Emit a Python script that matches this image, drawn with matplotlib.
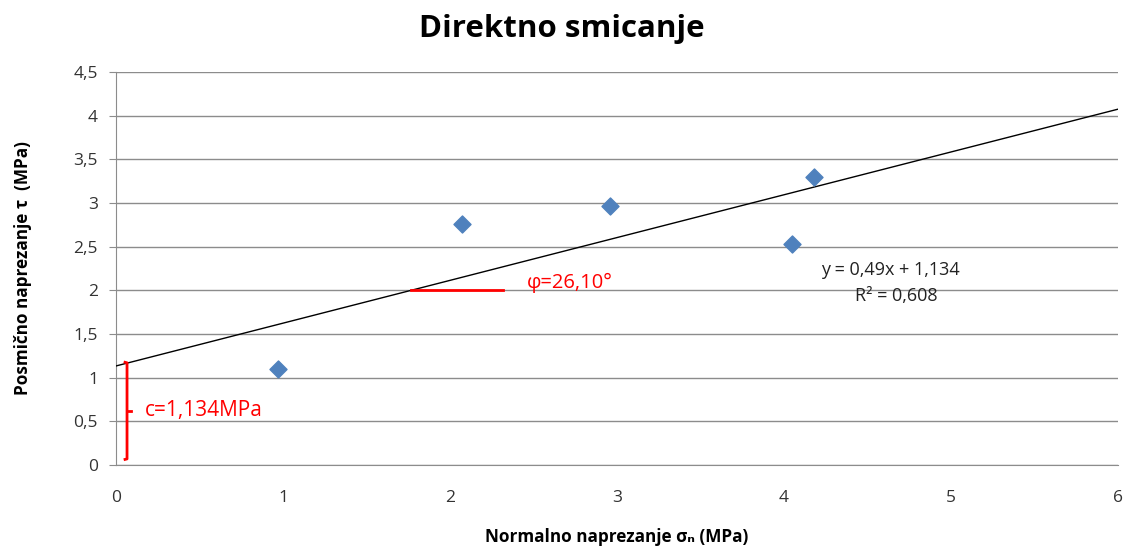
import numpy as np
import matplotlib
matplotlib.use("Agg")
import matplotlib.pyplot as plt

plt.rcParams['font.family'] = ['Open Sans', 'DejaVu Sans']

# measured points (normal stress, shear stress)
sigma_n = [0.97, 2.07, 2.96, 4.05, 4.18]
tau = [1.10, 2.76, 2.96, 2.53, 3.30]

slope = 0.49
intercept = 1.134
x_ticks = [0, 1, 2, 3, 4, 5, 6]
y_ticks = [0, 0.5, 1, 1.5, 2, 2.5, 3, 3.5, 4, 4.5]
y_tick_labels = ["0", "0,5", "1", "1,5", "2", "2,5", "3", "3,5", "4", "4,5"]

fig = plt.figure(figsize=(11.23, 5.52), dpi=100)
ax = fig.add_axes([0.1033, 0.1576, 0.8922, 0.712])

grid_col = "#8c8c8c"
ax.set_xlim(0, 6)
ax.set_ylim(0, 4.5)
ax.set_yticks(y_ticks)
ax.set_yticklabels(y_tick_labels)
ax.set_xticks(x_ticks)
ax.yaxis.grid(True, color=grid_col, linewidth=1)
ax.set_axisbelow(True)
for s in ["top", "right"]:
    ax.spines[s].set_visible(False)
for s in ["left", "bottom"]:
    ax.spines[s].set_color(grid_col)
ax.tick_params(axis="y", colors=grid_col, length=5, pad=8, labelcolor="#333333", labelsize=12.5)
ax.tick_params(axis="x", length=0, pad=18, labelcolor="#333333", labelsize=12.5)

# trendline
xs = np.array([0, 6])
ax.plot(xs, slope * xs + intercept, color="black", linewidth=1, zorder=3)

# data
ax.scatter(sigma_n, tau, marker="D", s=75, color="#4f81bd", zorder=4)

# friction angle marker
x_int = (2 - intercept) / slope
ax.plot([x_int, 2.32], [2, 2], color="red", linewidth=2, zorder=3)
ax.text(2.46, 2.08, "φ=26,10°", color="red", fontsize=14.5, va="center")

# cohesion bracket
bx = 0.066
ax.plot([bx - 0.02, bx, bx, bx - 0.02], [1.18, 1.17, 0.07, 0.06], color="red", linewidth=2,
        solid_capstyle="butt", zorder=3)
ax.plot([bx, bx + 0.025], [0.62, 0.62], color="red", linewidth=2, zorder=3)
ax.text(0.17, 0.62, "c=1,134MPa", color="red", fontsize=15, va="center")

# equation
ax.text(4.64, 2.23, "y = 0,49x + 1,134", fontsize=13, ha="center", va="center", color="#222222")
ax.text(4.67, 1.94, "R² = 0,608", fontsize=13, ha="center", va="center", color="#222222")

fig.suptitle("Direktno smicanje", fontsize=22.5, fontweight="bold", x=0.5, y=0.975)
ax.set_xlabel("Normalno naprezanje σₙ (MPa)", fontsize=12.3, fontweight="bold", labelpad=16)
ax.set_ylabel("Posmično naprezanje τ  (MPa)", fontsize=12.3, fontweight="bold", labelpad=30)

fig.savefig("out.png", dpi=100)
